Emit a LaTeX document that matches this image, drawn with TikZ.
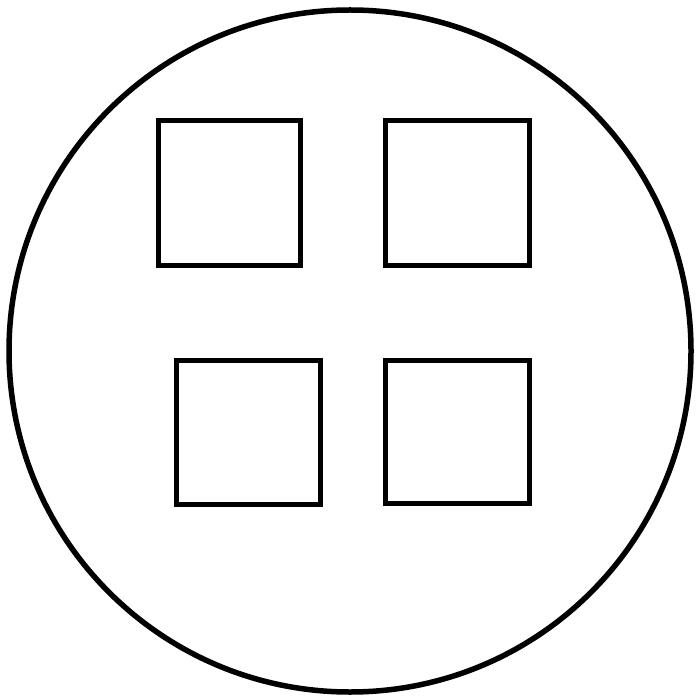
\documentclass[tikz,border=0pt]{standalone}
\begin{document}
\begin{tikzpicture}[x=1pt,y=-1pt,
  outer/.style={draw=black,line width=5.5pt},
  box/.style={draw=black,line width=5pt,line join=miter}]
\useasboundingbox (0,0) rectangle (696,700);
\draw[outer] (350,351) circle[radius=341];
\draw[box] (158,121) rectangle (300.5,265.5);
\draw[box] (385.5,121) rectangle (529.5,265.5);
\draw[box] (176,360) rectangle (320,504);
\draw[box] (385.5,360) rectangle (529.5,503.5);
\end{tikzpicture}
\end{document}
